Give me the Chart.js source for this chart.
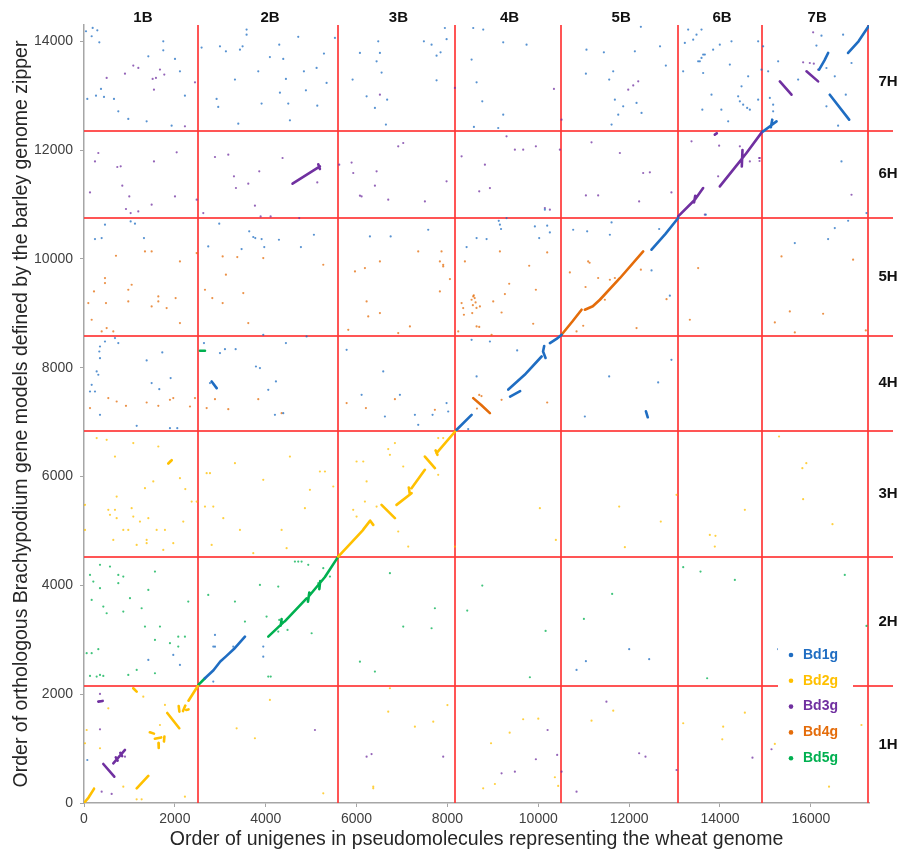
<!DOCTYPE html>
<html><head><meta charset="utf-8">
<script src="https://cdn.jsdelivr.net/npm/chart.js@4.4.0/dist/chart.umd.min.js"></script>
<style>html,body{margin:0;padding:0;background:#fff;}#wrap{width:902px;height:855px;}</style>
</head><body><div id="wrap"><canvas id="c" width="902" height="855"></canvas></div>
<script>
// ---------- data ----------
const seriesNames = ['Bd1g', 'Bd2g', 'Bd3g', 'Bd4g', 'Bd5g'];
const seriesColors = ['#1F6DC2', '#FFC000', '#7030A0', '#E46C0A', '#00B050'];
const xTicks = [0, 2000, 4000, 6000, 8000, 10000, 12000, 14000, 16000];
const yTicks = [0, 2000, 4000, 6000, 8000, 10000, 12000, 14000];
const xRange = [0, 17280];
const yRange = [0, 14300];
const wheatLabels = ['1B', '2B', '3B', '4B', '5B', '6B', '7B'];
const wheatBounds = [0, 2505, 5596, 8160, 10490, 13070, 14930, 17260];
const barleyLabels = ['1H', '2H', '3H', '4H', '5H', '6H', '7H'];
const barleyBounds = [0, 2152, 4518, 6841, 8588, 10758, 12352, 14150];
const xTitle = 'Order of unigenes in pseudomolecules representing the wheat genome';
const yTitle = 'Order of orthologous Brachypodium gene models defined by the barley genome zipper';

// collinear runs (polylines, x,y pairs)
const bd1gRuns = [
  [2663,2293, 2850,2440, 3000,2600, 3120,2690, 3300,2830, 3543,3058],
  [8202,6860, 8532,7135],
  [9340,7600, 9700,7870, 10073,8207],
  [9380,7470, 9600,7570],
  [10130,8400, 10105,8300, 10160,8180],
  [10257,8453, 10400,8530, 10514,8607],
  [12370,7200, 12410,7090],
  [2810,7748, 2920,7626],
  [12493,10170, 12800,10460, 13079,10752],
  [14950,12345, 15100,12440, 15244,12529],
  [15120,12420, 15150,12560],
  [16182,13479, 16300,13650, 16380,13786],
  [16417,13019, 16843,12560],
  [16820,13786, 17050,14000, 17270,14276]
];
const bd2gRuns = [
  [0,0, 100,100, 220,260],
  [1160,270, 1415,497],
  [1085,2109, 1159,2047],
  [1450,1300, 1540,1275],
  [1560,1180, 1700,1205],
  [1640,1100, 1645,1010],
  [1760,1130, 1770,1220],
  [1833,1655, 2097,1374],
  [2085,1780, 2100,1680],
  [2180,1690, 2230,1790],
  [2250,1710, 2300,1720],
  [2300,1880, 2505,2150],
  [1856,6240, 1930,6300],
  [5596,4529, 5900,4800, 6146,5020],
  [6150,5030, 6300,5190, 6367,5112],
  [6550,5480, 6844,5236],
  [6880,5480, 7210,5695],
  [7150,5800, 7170,5690],
  [7210,5787, 7503,6124],
  [7504,6368, 7724,6155],
  [7740,6480, 7780,6400],
  [7761,6430, 8202,6860]
];
const bd3gRuns = [
  [315,1863, 411,1876],
  [425,717, 667,484],
  [645,730, 902,975],
  [700,840, 740,780],
  [800,920, 840,860],
  [4591,11383, 5193,11702],
  [5157,11740, 5193,11653],
  [13079,10781, 13446,11088],
  [13446,11088, 13629,11302],
  [13430,11040, 13455,11160],
  [13996,11333, 14437,11793],
  [14437,11793, 14583,11947],
  [14480,11700, 14495,12000],
  [14583,11947, 14935,12345],
  [13886,12284, 13930,12310],
  [15317,13264, 15574,13019],
  [15904,13448, 16160,13264]
];
const bd4gRuns = [
  [8568,7442, 8750,7310, 8935,7166],
  [10512,8607, 10750,8850, 10953,9067],
  [11025,9067, 11200,9130, 11356,9250],
  [11356,9250, 11800,9650, 12309,10138]
];
const bd5gRuns = [
  [2517,2170, 2663,2293],
  [4056,3058, 4400,3330],
  [4420,3340, 4900,3760],
  [4950,3800, 5300,4150, 5596,4529],
  [4930,3700, 4960,3870],
  [5180,3930, 5200,4080],
  [4330,3260, 4350,3380],
  [2553,8312, 2663,8312]
];

// isolated orthologues
const bd1gDots = [
  [352,8391],[337,8299],[352,8177],[315,7871],[169,7687],[242,7564],[132,7564],[352,7135],[279,7932],[462,8483],[682,8545],[755,8453],[1379,8134],[1489,7718],[1657,7607],[1723,8281],[1907,7810],[1160,6933],[1892,6890],[2053,6890],
  [2641,8453],[2993,8269],[3103,8342],[3338,8342],[2773,7718],[3785,8023],[3873,7994],[4056,7595],[4225,7748],[4445,8453],[4203,7135],[4386,7166],[4900,8575],[3946,8606],[5781,8330],[6111,7503],[6587,7932],[6954,7503],[6624,7104],[7284,7135],[7357,6951],[7673,7135],[7981,7350],
  [8642,7840],[8532,8514],[8935,8483],[9535,8318],[8017,7196],[8457,6872],[12931,8146],[12639,7730],[11560,7840],[11025,7104],
  [462,10629],[242,10365],[389,10384],[1027,10690],[1122,10648],[1320,10384],[2977,10648],[3637,10507],[3726,10403],[3770,10384],[3910,10365],[3968,10219],[3469,10182],[2735,10231],[4291,10353],[4775,10219],[5061,10445],[6294,10414],[6750,10414],[7577,10537],
  [8642,10384],[8862,10365],[8422,10219],[9155,10629],[9180,10550],[9130,10700],[9301,10752],[9925,10598],[10020,10384],[10196,10611],[10255,10488],[10145,10905],
  [10768,10537],[11076,10507],[11576,10445],[11613,10672],[12661,10550],[12896,9324],[12493,9789],[13688,10813],[15647,10291],[16380,10365],[16527,10568],[16821,10702],[17224,10844],
  [44,14185],[191,14246],[293,14203],[169,14093],[337,13982],[73,12941],[264,13001],[440,12978],[660,12941],[374,13125],[755,12713],[975,12573],[1416,13724],[1745,14000],[1745,13835],[2003,13677],[1929,12450],[1379,12529],[2112,13448],[2222,13001],
  [2589,13885],[2993,13908],[3124,13817],[3433,13847],[3491,13908],[3579,14123],[3579,14215],[3323,13296],[2919,12941],[2955,12794],[3396,12487],[3836,13448],[3909,12855],[4092,13710],[4298,13939],[4313,13057],[4386,13677],[4445,13308],[4496,12855],[4533,12548],[4716,14082],[4841,13448],[4885,13100],[5120,13511],[5135,12818],[5282,13774],[5340,13235],[5524,14063],
  [5913,13296],[6074,13786],[6221,12989],[6404,12775],[6477,14000],[6514,13786],[6441,13632],[6551,13426],[6673,12928],[6646,12469],[7482,14000],[7651,13939],[7761,13284],[7761,13737],[7849,13798],[7944,14245],[7982,14040],
  [8568,14245],[8788,14215],[8532,13664],[8642,13247],[8767,12897],[9228,13982],[9742,13939],[9228,12652],[9118,12407],[8583,12426],
  [11061,13847],[11444,13798],[11649,13448],[11561,13296],[11048,13406],[12126,13817],[12258,14266],[12680,13908],[12808,13554],[11686,12928],[11869,12805],[11760,12652],[12163,12867],[12273,12683],[11613,12469],
  [13299,14215],[13410,14031],[13483,14123],[13593,14215],[13226,13970],[13849,13847],[13996,13939],[14253,14000],[14840,14000],[13593,13695],[13666,13756],[13556,13632],[13189,13448],[13629,13418],[14217,13572],[14620,13356],[14914,13479],[14474,13173],[14400,12989],[14437,12897],[14510,12836],[14598,12775],[14657,12744],[14840,12928],[14030,12744],[13611,12744],[14180,12529],[13813,13019],[13519,13632],[13629,13756],
  [16234,14104],[16895,13602],[16527,13356],[16769,13019],[16343,12805],[16600,12450],[16710,14123],[16123,13921],[15720,13296],[15280,13632],[15060,13448],[15097,12960],[15170,12836],[15170,12713],[14950,13908],[16343,13510],[16674,11793],
  [2846,2231],[2883,2874],[3286,2874],[12001,2827],[12441,2643],[11048,2606],[10842,2446],[15280,2827],[2883,3089],[2846,2875],[3946,2875],[3946,2690],[1416,2630],[1965,2722],[2112,2538],[73,790]
];
const bd2gDots = [
  [1122,2078],[1305,1955],[535,1741],[59,1342],[22,1098],[352,1006],[1672,1434],[1782,1802],[865,300],[1159,68],[1269,68],[2222,116],[220,270],[3360,1373],[3762,1190],[4092,1894],
  [8960,1098],[9370,1293],[9667,1539],[10000,1550],[8787,270],[9045,349],[10365,473],[10438,313],[11172,1514],[11650,1697],[13190,1466],[14070,1403],[14050,1171],[14547,1661],[15207,1085],[16400,300],[17114,1434],
  [6367,270],[7284,1403],[7688,1495],[5267,178],[6734,2109],[6697,1679],[8000,1800],[6367,300],
  [6697,6505],[6734,6400],[6844,6615],[7027,6185],[7137,4714],[6917,4990],[6000,6277],[6147,6277],[6221,5910],[6441,5449],[6184,5541],[5926,5388],[6000,5265],[7797,6707],[7907,6707],[7797,6032],[8165,4714],
  [279,6707],[499,6676],[682,6368],[1085,6615],[1636,6553],[1892,6277],[1342,5787],[1525,5910],[719,5633],[535,5388],[682,5388],[572,5296],[719,5235],[22,5480],[22,5020],[645,4836],[865,5020],[975,5020],[1049,5419],[1085,5265],[1232,5173],[1416,5235],[1159,4744],[1379,4836],[1379,4775],[1599,5020],[1745,4652],[2112,5971],[2230,5770],[2370,5541],[2185,5173],[2480,5541],[1782,5020],[1965,4775],
  [2700,6063],[2773,6063],[3323,6247],[2663,5449],[2846,5449],[3066,5235],[3433,5020],[2810,4744],[3726,4591],[3946,5940],[4460,4683],[4533,6368],[4350,5020],[4863,5419],[4973,5756],[5193,6093],[5304,6093],[5487,5817],
  [10035,5419],[10387,4836],[11781,5449],[11906,4702],[12697,5173],[13043,5664],[13776,4928],[13900,4910],[13886,4714],[14547,5388],[15300,6736],[15813,6155],[15900,6247],[15830,5585],[16476,5125]
];
const bd3gDots = [
  [352,2004],[352,1355],[389,208],[609,166],[902,851],[11500,1863],[10205,1342],[10416,883],[9947,804],[9192,546],[9485,576],[12220,914],[12360,852],[13043,607],[10842,208],[14715,833],[15134,988],[10513,576],[6221,852],[6330,900],[7907,852],[5084,1342],
  [242,11793],[315,11947],[132,11223],[733,11690],[808,11702],[843,11347],[997,11150],[924,10918],[1027,10844],[1195,10874],[1489,10997],[1540,11793],[2040,11959],[2003,11150],[2480,11089],[2626,10844],[2883,11874],[3176,11916],[3301,11518],[3345,11304],[3616,11383],[3858,11610],[3763,10979],[3888,10782],[4108,10782],[4371,11855],[4738,10752],[5135,11407],[5618,11733],
  [5891,11771],[5927,11580],[6074,11162],[6111,11150],[6404,11347],[6441,11610],[6697,11089],[6917,12070],[7027,12131],[7504,11058],[7981,11426],
  [8312,11886],[8825,11733],[8700,11242],[8935,11303],[9301,12254],[9485,12009],[9668,12009],[9947,12070],[10145,10936],[10255,10905],[10475,12009],[11048,11168],[11318,11168],[11796,11947],[12309,11580],[12456,11592],[12220,11058],[11172,12144],[12931,11223],[13666,10813],
  [13923,12302],[13981,12082],[13959,11518],[14657,11793],[14861,11855],[14870,11800],[13373,12161],[16895,11180],[14437,12070],[14877,11855],
  [499,13327],[902,13406],[1085,13554],[1196,13511],[1511,13308],[1584,13327],[1540,13112],[1672,13480],[1767,13388],[2443,13247],[2222,12437],[6514,13019],[10345,13125],[8165,13143],[10512,12560],[15830,13614],[15977,13602],[16065,13590],[16160,13479],[16050,14165],
  [11980,13112],[12090,13190],[12200,13264]
];
const bd4gDots = [
  [535,7442],[719,7380],[924,7300],[1379,7361],[1636,7300],[1892,7411],[1965,7442],[2333,7288],[2443,7442],[132,7258],[2700,7258],[2883,7423],[3176,7239],[3836,7423],[4350,7166],[5781,7350],[6206,7258],[6844,7423],[7724,7227],[9192,7411],[10196,7361],[8700,7500],[8750,7480],[8650,7250],
  [704,10059],[1342,10138],[1489,10138],[2112,9955],[462,9649],[462,9556],[220,9403],[95,9189],[484,9189],[975,9434],[1049,9526],[975,9219],[1489,9127],[1636,9311],[1636,9219],[1819,9097],[2017,9281],[169,8882],[389,8667],[499,8729],[645,8667],[2112,8821],[2480,10108],[2663,9434],[2824,9281],[3052,9189],[3052,10046],[3124,9710],[3374,10034],[3506,9373],[3616,8821],[3946,10016],[5267,9893],[5965,9771],[6184,9832],[6221,9219],[6257,8943],[6514,9005],[6514,9955],[5817,8698],[6917,8637],[7174,8759],[7357,10138],[7834,9955],[7907,9863],[7834,9403],
  [11098,9955],[11130,9930],[10695,9752],[11040,9484],[11318,9650],[11576,9618],[11686,9650],[11466,9250],[10989,8772],[10842,8667],[12163,8729],[12258,9802],[12823,9260],[10196,10120],[9800,9875],[9947,9434],[9360,9544],[9265,9355],[9192,9016],[9008,9219],[8715,9127],[8568,9311],[8532,9250],[8600,9280],[8580,9330],[8620,9200],[8560,9150],[8640,9100],[8546,9005],[8347,9097],[8312,9188],[8363,8974],[8238,8667],[8642,8759],[8700,8750],[8972,8606],[9888,8809],[8385,9955],[9155,10138],[7907,9893],[8055,9630],[7870,10138],
  [13519,9832],[13336,8882],[15354,10046],[15537,9035],[16270,8993],[16930,9986],[15207,8833],[15647,8649],[17210,8686]
];
const bd5gDots = [
  [132,4193],[352,4377],[572,4346],[755,4193],[865,4162],[205,4070],[352,3948],[755,4040],[169,3733],[425,3610],[499,3488],[865,3518],[1012,3764],[1269,3580],[1416,3917],[1562,4254],[1342,3242],[1672,3242],[1562,2998],[1892,2937],[2075,3058],[2222,3058],[2075,2875],[2295,3702],[59,2753],[169,2753],[315,2827],[132,2335],[279,2323],[352,2354],[425,2335],[975,2354],[1160,2446],[1562,2385],
  [2735,3825],[3323,3702],[3543,3334],[3873,4009],[4276,3978],[4019,3426],[4056,2323],[4110,2323],[4643,4438],[4790,4438],[5011,3120],[4276,3150],[4480,3181],[4298,3365],[4936,4377],[5157,4040],[5414,4162],[4716,4438],[5267,4316],
  [6734,4224],[6074,2598],[6404,2415],[7724,3580],[7651,3212],[7027,3242],
  [8767,3996],[8436,3537],[10161,3163],[9815,2311],[11626,3843],[11004,3384],[13190,4334],[13571,4254],[14327,4101],[13717,2293],[16747,4193],[17224,3255]
];

const seriesRuns = [bd1gRuns, bd2gRuns, bd3gRuns, bd4gRuns, bd5gRuns];
const seriesDots = [bd1gDots, bd2gDots, bd3gDots, bd4gDots, bd5gDots];

// ---------- build datasets ----------
function runsToData(runs) {
  const out = [];
  runs.forEach(r => {
    for (let i = 0; i < r.length; i += 2) out.push({x: r[i], y: r[i + 1]});
    out.push({x: null, y: null});
  });
  return out;
}
function fade(hex, a) {
  const n = parseInt(hex.slice(1), 16);
  return 'rgba(' + (n >> 16) + ',' + ((n >> 8) & 255) + ',' + (n & 255) + ',' + a + ')';
}
const datasets = [];
seriesNames.forEach((name, i) => {
  datasets.push({
    label: name + ' runs', data: runsToData(seriesRuns[i]), showLine: true, spanGaps: false,
    pointRadius: 0, pointHoverRadius: 0, borderColor: seriesColors[i], borderWidth: 2.6,
    borderCapStyle: 'round', borderJoinStyle: 'round', tension: 0
  });
  datasets.push({
    label: name, data: seriesDots[i].map(p => ({x: p[0], y: p[1]})), showLine: false,
    pointRadius: 1.1, pointHoverRadius: 1.1, pointBorderWidth: 0,
    backgroundColor: fade(seriesColors[i], 0.75), borderColor: fade(seriesColors[i], 0.75)
  });
});

const FONT = "'Liberation Sans', Arial, sans-serif";
const RED = 'rgba(255,55,55,0.85)';

const overlay = {
  id: 'overlay',
  beforeDatasetsDraw(chart) {
    const {ctx, chartArea: a, scales: {x, y}} = chart;
    ctx.save();
    ctx.strokeStyle = RED; ctx.lineWidth = 2;
    wheatBounds.slice(1).forEach(v => {
      const px = Math.round(x.getPixelForValue(v));
      ctx.beginPath(); ctx.moveTo(px, a.top); ctx.lineTo(px, a.bottom); ctx.stroke();
    });
    barleyBounds.slice(1, -1).forEach(v => {
      const py = Math.round(y.getPixelForValue(v));
      ctx.beginPath(); ctx.moveTo(a.left, py); ctx.lineTo(a.right + 24, py); ctx.stroke();
    });
    ctx.restore();
  },
  afterDatasetsDraw(chart) {
    const {ctx, chartArea: a, scales: {x, y}} = chart;
    ctx.save();
    ctx.fillStyle = '#111';
    ctx.font = 'bold 15px ' + FONT;
    ctx.textAlign = 'center'; ctx.textBaseline = 'middle';
    wheatLabels.forEach((t, i) => {
      const cx = x.getPixelForValue((wheatBounds[i] + wheatBounds[i + 1]) / 2) + 2;
      ctx.fillText(t, cx, a.top - 7);
    });
    barleyLabels.forEach((t, i) => {
      const cy = y.getPixelForValue((barleyBounds[i] + barleyBounds[i + 1]) / 2);
      ctx.fillText(t, a.right + 19, cy);
    });
    // legend
    const lx = a.right - 91, ly = a.bottom - 163;
    ctx.fillStyle = '#fff';
    ctx.fillRect(lx, ly, 75, 132);
    ctx.font = 'bold 14px ' + FONT;
    ctx.textAlign = 'left';
    seriesNames.forEach((n, i) => {
      const ry = a.bottom - 148 + i * 25.8;
      ctx.fillStyle = seriesColors[i];
      ctx.beginPath(); ctx.arc(a.right - 78, ry, 2.3, 0, Math.PI * 2); ctx.fill();
      ctx.fillText(n, a.right - 66, ry);
    });
    ctx.restore();
  }
};

new Chart(document.getElementById('c'), {
  type: 'scatter',
  data: {datasets},
  plugins: [overlay],
  options: {
    responsive: false, animation: false, devicePixelRatio: 1,
    layout: {padding: {left: 0, right: 33, top: 25, bottom: 0}},
    plugins: {legend: {display: false}, tooltip: {enabled: false}},
    events: [],
    scales: {
      x: {
        type: 'linear', min: xRange[0], max: xRange[1],
        afterBuildTicks: s => { s.ticks = xTicks.map(v => ({value: v})); },
        afterFit: s => { s.height = 52; },
        ticks: {callback: v => String(v), font: {family: FONT, size: 14}, color: '#404040', padding: 4, maxRotation: 0, autoSkip: false},
        grid: {drawOnChartArea: false, drawTicks: true, tickLength: 4, color: '#a6a6a6'},
        border: {display: true, color: '#a6a6a6', width: 1.5},
        title: {display: true, text: xTitle, font: {family: FONT, size: 19.5}, color: '#262626', padding: {top: 0, bottom: 4}}
      },
      y: {
        type: 'linear', min: yRange[0], max: yRange[1],
        afterBuildTicks: s => { s.ticks = yTicks.map(v => ({value: v})); },
        afterFit: s => { s.width = 84; },
        ticks: {callback: v => String(v), font: {family: FONT, size: 14}, color: '#404040', padding: 7, autoSkip: false},
        grid: {drawOnChartArea: false, drawTicks: true, tickLength: 4, color: '#a6a6a6'},
        border: {display: true, color: '#a6a6a6', width: 1.5},
        title: {display: true, text: yTitle, font: {family: FONT, size: 19.5}, color: '#262626', padding: {top: 10, bottom: 0}}
      }
    }
  }
});
</script></body></html>
